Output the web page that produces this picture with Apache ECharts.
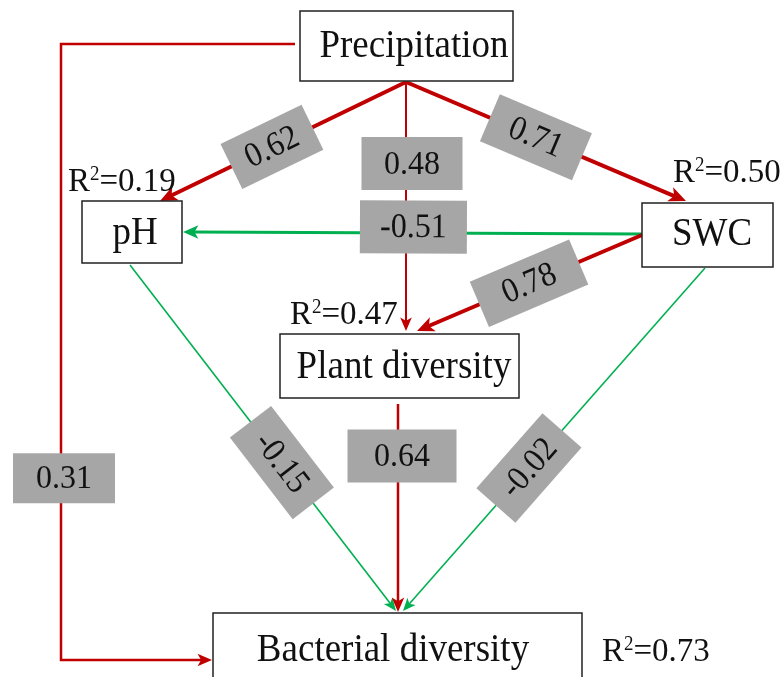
<!DOCTYPE html>
<html><head><meta charset="utf-8">
<script src="https://cdn.jsdelivr.net/npm/echarts@6/dist/echarts.min.js"></script>
<style>html,body{margin:0;padding:0;background:#fff}#c{width:781px;height:677px}</style>
</head><body><div id="c"></div>
<script>
// ---- data ----
const nodeNames = ['Precipitation', 'pH', 'SWC', 'Plant diversity', 'Bacterial diversity'];
const rSquared = [null, 0.19, 0.50, 0.47, 0.73];
const pathFrom = ['Precipitation', 'Precipitation', 'Precipitation', 'SWC', 'SWC', 'pH', 'Plant diversity', 'SWC', 'Precipitation'];
const pathTo = ['pH', 'SWC', 'Plant diversity', 'pH', 'Plant diversity', 'Bacterial diversity', 'Bacterial diversity', 'Bacterial diversity', 'Bacterial diversity'];
const pathCoef = [0.62, 0.71, 0.48, -0.51, 0.78, -0.15, 0.64, -0.02, 0.31];

// ---- layout & style (diagram space, 781 x 677) ----
const nodeLayout = {
  'Precipitation': { box: [300, 11, 513, 81], text: [414, 46], r2: null },
  'pH': { box: [82, 201, 182, 263], text: [135, 233], r2: [68, 182] },
  'SWC': { box: [642, 203, 773, 267], text: [712, 234], r2: [673, 173] },
  'Plant diversity': { box: [280, 334, 519, 398], text: [404, 367], r2: [290, 315] },
  'Bacterial diversity': { box: [213, 613, 582, 692], text: [393, 650], r2: [602, 652] }
};
const edgeLayout = [
  { pts: [[406, 82], [160, 201]], lw: 4, t: 0.545, w: 90, h: 50 },
  { pts: [[406, 82], [686, 201]], lw: 4, t: 0.464, w: 100, h: 51 },
  { pts: [[406, 82], [406, 331]], lw: 2, t: 0.327, w: 101, h: 53, dx: 6 },
  { pts: [[642, 234], [183, 232]], lw: 3, t: 0.498, w: 107, h: 53, dy: -6 },
  { pts: [[642, 235], [417, 331]], lw: 4, t: 0.502, w: 108, h: 49 },
  { pts: [[130, 265], [396, 611]], lw: 1.6, t: 0.571, w: 103, h: 52 },
  { pts: [[398, 404], [398, 612]], lw: 2.5, t: 0.25, w: 109, h: 53, dx: 4 },
  { pts: [[705, 268], [403, 611]], lw: 1.6, t: 0.583, w: 100, h: 52 },
  { pts: [[295, 44], [61, 44], [61, 660], [212, 660]], lw: 2.5, seg: 1, t: 0.705, w: 102, h: 50, dx: 3 }
];
const RED = '#c00000', GREEN = '#00b050', GRAY = '#a6a6a6', INK = '#111111';
const SERIF = '"Liberation Serif", "Times New Roman", serif';

function renderEdge(params, api) {
  const i = params.dataIndex, L = edgeLayout[i];
  const pts = L.pts.map(p => api.coord(p));
  const color = pathCoef[i] >= 0 ? RED : GREEN;
  const n = pts.length, P = pts[n - 1], Q = pts[n - 2];
  const dx = P[0] - Q[0], dy = P[1] - Q[1], len = Math.hypot(dx, dy);
  const ux = dx / len, uy = dy / len;
  const hl = 10 + 1.8 * L.lw, hw = 4 + 0.9 * L.lw;
  const bx = P[0] - ux * hl, by = P[1] - uy * hl;
  const linePts = pts.slice(0, n - 1).concat([[P[0] - ux * hl * 0.7, P[1] - uy * hl * 0.7]]);
  return {
    type: 'group', children: [
      { type: 'polyline', shape: { points: linePts }, style: { stroke: color, lineWidth: L.lw, fill: null } },
      { type: 'polygon', shape: { points: [[P[0], P[1]], [bx - uy * hw, by + ux * hw], [bx + ux * hl * 0.25, by + uy * hl * 0.25], [bx + uy * hw, by - ux * hw]] }, style: { fill: color } }
    ]
  };
}

function renderLabel(params, api) {
  const i = params.dataIndex, L = edgeLayout[i];
  const s = L.seg || 0;
  const A = api.coord(L.pts[s]), B = api.coord(L.pts[s + 1]);
  const cx = A[0] + (B[0] - A[0]) * L.t + (L.dx || 0);
  const cy = A[1] + (B[1] - A[1]) * L.t + (L.dy || 0);
  let ang = Math.atan2(B[1] - A[1], B[0] - A[0]);
  if (ang > Math.PI / 2) ang -= Math.PI;
  if (ang <= -Math.PI / 2) ang += Math.PI;
  if (Math.abs(Math.abs(ang) - Math.PI / 2) < 0.05) ang = 0;
  return {
    type: 'group', x: cx, y: cy, rotation: -ang, children: [
      { type: 'rect', shape: { x: -L.w / 2, y: -L.h / 2, width: L.w, height: L.h }, style: { fill: GRAY } },
      { type: 'text', x: 0, y: 1, scaleY: 1.08, style: { text: pathCoef[i].toFixed(2), x: 0, y: 0, align: 'center', verticalAlign: 'middle', fontSize: 32, fontFamily: SERIF, fill: INK } }
    ]
  };
}

function renderNode(params, api) {
  const i = params.dataIndex, name = nodeNames[i], L = nodeLayout[name];
  const p0 = api.coord([L.box[0], L.box[1]]), p1 = api.coord([L.box[2], L.box[3]]);
  const tc = api.coord(L.text);
  const children = [
    { type: 'rect', shape: { x: p0[0], y: p0[1], width: p1[0] - p0[0], height: p1[1] - p0[1] }, style: { fill: '#fff', stroke: '#222', lineWidth: 1.5 } },
    { type: 'text', x: tc[0], y: tc[1], scaleY: 1.1, style: { text: name, x: 0, y: 0, align: 'center', verticalAlign: 'middle', fontSize: 37, fontFamily: SERIF, fill: INK } }
  ];
  if (rSquared[i] != null) {
    const rp = api.coord(L.r2);
    children.push({
      type: 'text', x: rp[0], y: rp[1], scaleY: 1.05, style: {
        text: '{r|R}{s|2}{r|=' + rSquared[i].toFixed(2) + '}', x: 0, y: 0, align: 'left', verticalAlign: 'middle',
        rich: {
          r: { fontSize: 33, fontFamily: SERIF, fill: INK, lineHeight: 33 },
          s: { fontSize: 19, fontFamily: SERIF, fill: INK, lineHeight: 19, verticalAlign: 'top' }
        }
      }
    });
  }
  return { type: 'group', children };
}

const chart = echarts.init(document.getElementById('c'), null, { renderer: 'canvas' });
chart.setOption({
  animation: false,
  backgroundColor: '#ffffff',
  grid: { left: 0, right: 0, top: 0, bottom: 0 },
  xAxis: { type: 'value', min: 0, max: 781, show: false },
  yAxis: { type: 'value', min: 0, max: 677, inverse: true, show: false },
  series: [
    { type: 'custom', name: 'paths', renderItem: renderEdge, data: pathCoef.map((c, i) => [i, c]), silent: true },
    { type: 'custom', name: 'variables', renderItem: renderNode, data: nodeNames.map((n, i) => [i, rSquared[i] == null ? 0 : rSquared[i]]), silent: true },
    { type: 'custom', name: 'coefficients', renderItem: renderLabel, data: pathCoef.map((c, i) => [i, c]), silent: true }
  ]
});
</script>
</body></html>
